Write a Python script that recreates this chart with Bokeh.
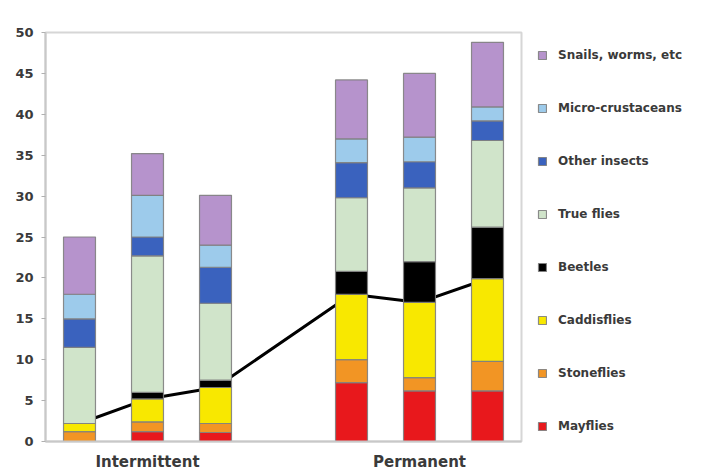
from bokeh.plotting import figure
from bokeh.models import (ColumnDataSource, FactorRange, Range1d, FixedTicker,
                          Legend, LegendItem)
from bokeh.embed import file_html
from bokeh.resources import INLINE

# ---- data ----
groups = ["Intermittent", "Intermittent", "Intermittent",
          "Permanent", "Permanent", "Permanent"]
sites = ["1", "2", "3", "1", "2", "3"]
taxa = ["Mayflies", "Stoneflies", "Caddisflies", "Beetles", "True flies",
        "Other insects", "Micro-crustaceans", "Snails, worms, etc"]
mayflies = [0.0, 1.2, 1.1, 7.2, 6.2, 6.2]
stoneflies = [1.2, 1.2, 1.1, 2.8, 1.6, 3.6]
caddisflies = [1.0, 2.8, 4.4, 8.0, 9.2, 10.1]
beetles = [0.0, 0.8, 0.9, 2.8, 5.0, 6.3]
true_flies = [9.3, 16.7, 9.4, 9.0, 9.0, 10.6]
other_insects = [3.5, 2.3, 4.4, 4.3, 3.2, 2.4]
micro_crustaceans = [3.0, 5.1, 2.7, 2.9, 3.0, 1.7]
snails_worms = [7.0, 5.1, 6.1, 7.2, 7.8, 7.9]
ept_total = [2.2, 5.2, 6.6, 18.0, 17.0, 19.9]
y_ticks = [0, 5, 10, 15, 20, 25, 30, 35, 40, 45, 50]

colors = ["#e8181c", "#f29524", "#f8e800", "#000000", "#d0e4ca",
          "#3a62be", "#9dcbeb", "#b693cc"]

factors = list(zip(groups, sites))
series = [mayflies, stoneflies, caddisflies, beetles, true_flies,
          other_insects, micro_crustaceans, snails_worms]
data = {"x": factors, "ept": ept_total}
for name, vals in zip(taxa, series):
    data[name] = vals
source = ColumnDataSource(data)

FONT = "DejaVu Sans"
TXT = "#3a3a3a"

p = figure(frame_width=476, frame_height=409,
           output_backend="svg", toolbar_location=None,
           x_range=FactorRange(*factors, group_padding=1.0, range_padding=0.0),
           y_range=Range1d(0, 50),
           min_border_left=45, min_border_top=32, min_border_right=0,
           min_border_bottom=28)
p.background_fill_color = "white"
p.border_fill_color = "white"
p.outline_line_color = "#d6d6d6"
p.outline_line_width = 2
p.xgrid.visible = False
p.ygrid.visible = False

# EPT line drawn first (sits behind bars)
p.line(x="x", y="ept", source=source, line_color="black", line_width=3)

renderers = p.vbar_stack(taxa, x="x", width=0.47, color=colors, source=source,
                         line_color="#808080", line_width=1.2, line_alpha=0.9)

# y axis
p.yaxis.ticker = FixedTicker(ticks=y_ticks)
p.yaxis.axis_line_color = "#c8c8c8"
p.yaxis.axis_line_width = 2
p.yaxis.major_tick_line_color = "#b0b0b0"
p.yaxis.major_tick_in = 0
p.yaxis.major_tick_out = 4
p.yaxis.minor_tick_line_color = None
p.yaxis.major_label_standoff = 8
p.yaxis.major_label_text_font = FONT
p.yaxis.major_label_text_font_style = "bold"
p.yaxis.major_label_text_font_size = "13px"
p.yaxis.major_label_text_color = TXT

# x axis (only group labels shown)
p.xaxis.axis_line_color = "#c8c8c8"
p.xaxis.axis_line_width = 2
p.xaxis.major_tick_line_color = None
p.xaxis.minor_tick_line_color = None
p.xaxis.major_label_text_alpha = 0
p.xaxis.major_label_text_font_size = "1px"
p.xaxis.major_label_standoff = 5
p.xaxis.separator_line_color = None
p.xaxis.group_text_font = FONT
p.xaxis.group_text_font_style = "bold"
p.xaxis.group_text_font_size = "15px"
p.xaxis.group_text_color = TXT
p.xaxis.group_label_orientation = "horizontal"

items = [LegendItem(label=t, renderers=[r]) for t, r in zip(taxa, renderers)]
items.reverse()
legend = Legend(items=items, location="top_left", orientation="vertical",
                glyph_width=10, glyph_height=10, label_height=10,
                label_standoff=11, spacing=39, padding=0, margin=16,
                border_line_color=None, background_fill_alpha=0,
                label_text_font=FONT, label_text_font_style="bold",
                label_text_font_size="12px", label_text_color=TXT)
p.add_layout(legend, "right")

open("out.html", "w").write(file_html(p, INLINE))
